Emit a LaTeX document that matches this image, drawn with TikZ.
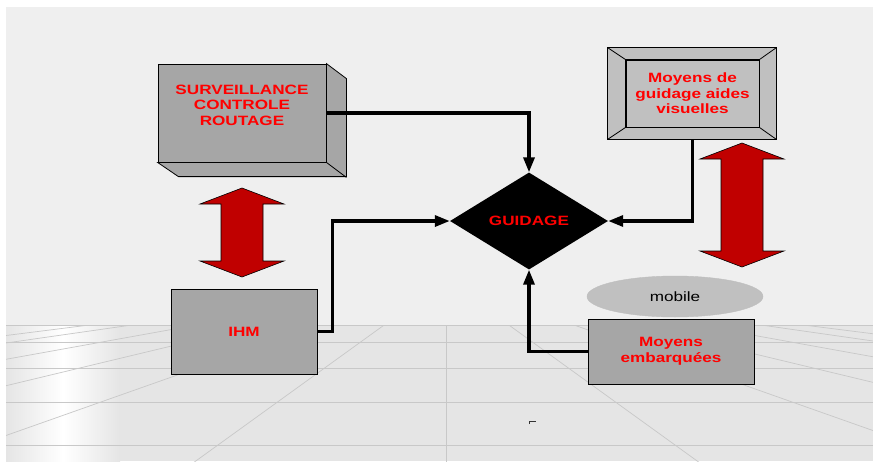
\documentclass[tikz,border=0pt]{standalone}
\usepackage{fontspec}
\usepackage{tikz}
\usetikzlibrary{arrows.meta,shapes.geometric}
\newfontfamily\wide{Liberation Sans}[FakeStretch=1.27]
\definecolor{Wall}{HTML}{EFEFEF}
\definecolor{Floor}{HTML}{E5E5E5}
\definecolor{FloorLine}{HTML}{C8C8C8}
\definecolor{BoxGrey}{HTML}{A6A6A6}
\definecolor{PanelGrey}{HTML}{C0C0C0}
\definecolor{ArrowRed}{HTML}{C00000}
\definecolor{TextRed}{HTML}{FF0000}

% big up/down arrow: tip x, tip y, shaft length
\newcommand\updown[3]{%
  \filldraw[dbl] (#1,#2) -- ++(42,16) -- ++(-21,0) -- ++(0,#3) -- ++(21,0)
    -- ++(-42,16) -- ++(-42,-16) -- ++(21,0) -- ++(0,-#3) -- ++(-21,0) -- cycle;}

\begin{document}
\begin{tikzpicture}[
  x=1pt, y=-1pt, line join=miter,
  font=\wide\bfseries\fontsize{13.5}{15.5}\selectfont,
  box/.style={draw=black,line width=0.8pt,fill=BoxGrey,text=TextRed,
              align=center,inner sep=0pt},
  panel/.style={draw=black,line width=0.8pt,fill=PanelGrey,text=TextRed,
                align=center,inner sep=0pt},
  lbl/.style={text=TextRed,align=center,inner sep=0pt},
  hub/.style={diamond,fill=black,text=TextRed,inner sep=0pt,aspect=1.63,
              minimum width=158pt,minimum height=97pt},
  link/.style={line width=3.3pt,-{Triangle[length=15pt,width=11pt]}},
  dbl/.style={fill=ArrowRed,draw=black,line width=0.6pt},
  grid/.style={FloorLine,line width=0.7pt},
]
\useasboundingbox (0,0) rectangle (873,461);

% room: wall, floor with a light glare band and a perspective grid
\fill[white] (0,0) rectangle (873,461);
\fill[Wall] (6,7) rectangle (873,461);
\fill[Floor] (6,325) rectangle (873,461);
\shade[left color=Floor,right color=Floor,middle color=white] (6,325) rectangle (120,461);
\begin{scope}
  \clip (6,325) rectangle (873,461);
  \foreach \s in {0.126,0.143,0.18,0.24,0.353,0.722}{
    \draw[grid] (446.5,280) -- ++(-1000,{1000*\s});
    \draw[grid] (446.5,280) -- ++(1000,{1000*\s});
  }
  \draw[grid] (446.5,280) -- ++(0,500);
\end{scope}
\foreach \y in {325,342,368,402,445}
  \draw[grid] (6,\y) -- (873,\y);

% blocks
\node[box,minimum width=168pt,minimum height=98pt] (surv) at (242,113) {};
\filldraw[box] (surv.north east) -- ++(20,15) -- ++(0,98) -- ++(-168,0)
  -- (surv.south west) -- (surv.south east) -- cycle;
\draw[line width=0.8pt] (surv.south east) -- ++(20,15);
\node[lbl] (survtxt) at (242,105) {SURVEILLANCE\\CONTROLE\\ROUTAGE};

\node[panel,minimum width=133pt,minimum height=67pt] (visu) at (692.5,93.5)
  {Moyens de\\guidage aides\\visuelles};
\filldraw[panel,even odd rule]
  ([shift={(-18,-12)}]visu.north west) rectangle ([shift={(17,12)}]visu.south east)
  (visu.north west) rectangle (visu.south east);
\draw[line width=0.8pt] (visu.north west) -- ++(-18,-12) (visu.north east) -- ++(17,-12)
  (visu.south east) -- ++(17,12) (visu.south west) -- ++(-18,12);

\node[hub] (guid) at (529,221) {GUIDAGE};
\node[box,minimum width=146pt,minimum height=85pt] (ihm) at (244,331.5) {IHM};
\node[ellipse,fill=PanelGrey,draw=black!25,minimum width=176pt,minimum height=41pt,
      inner sep=0pt,font=\wide\mdseries\fontsize{13.5}{15.5}\selectfont]
  (mob) at (675,296.5) {mobile};
\node[box,minimum width=166pt,minimum height=65pt] (emb) at (671,351.5)
  {Moyens\\embarquées};

% links into the hub
\draw[link] (surv.east) -| (guid.north);
\draw[link] (ihm.east) -- ++(15,0) |- (guid.west);
\draw[link] ([yshift=-12pt]visu.south) |- (guid.east);
\draw[link] (emb.west) -| (guid.south);

% exchanges
\updown{242}{188}{57}
\updown{742}{143}{92}

\draw[line width=0.6pt,black!80] (529,424) -- (529,421) -- (536,421);
\end{tikzpicture}
\end{document}
